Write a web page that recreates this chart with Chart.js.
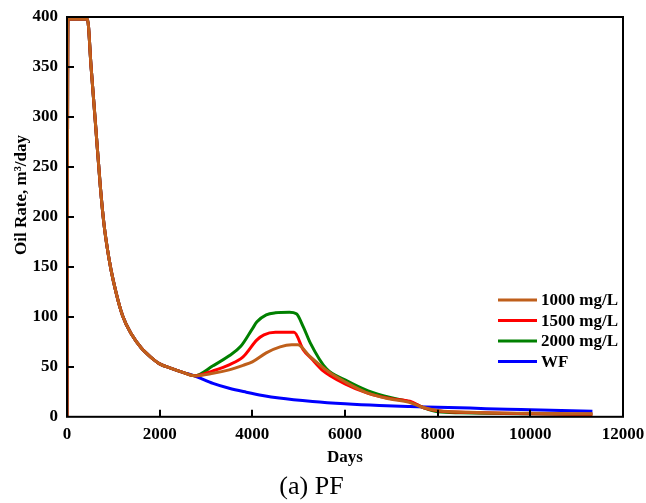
<!DOCTYPE html>
<html>
<head>
<meta charset="utf-8">
<script src="https://cdn.jsdelivr.net/npm/chart.js@4.4.1/dist/chart.umd.min.js"></script>
<style>
  html, body { margin: 0; padding: 0; background: #fff; }
  #wrap { width: 646px; height: 503px; }
</style>
</head>
<body>
<div id="wrap"><canvas id="chart" width="646" height="503"></canvas></div>
<script>
// primary depletion, shared by every case until injection starts (~2750 days)
const earlyDays = [0, 20, 440, 520, 620, 720, 800, 900, 1000, 1200, 1400, 1600, 1800, 2000, 2250, 2500, 2750];
const earlyRate = [0, 398, 398, 350, 290, 230, 192, 160, 136, 101, 82, 69, 60, 53, 48.5, 44.5, 41];

// after that each case goes its own way
const days1000 = [3150, 3500, 3800, 4000, 4300, 4600, 4850, 4980, 5230, 5660, 6020, 6450, 6950, 7385, 7673, 8030, 8680, 9000, 10000, 11340];
const rate1000 = [43.5, 47, 51.5, 55, 64, 70, 72, 72, 61, 44.5, 34.5, 24.5, 18, 14.5, 9.5, 6, 4.5, 4, 3.5, 3];

const days1500 = [3150, 3500, 3800, 4100, 4250, 4500, 4900, 5100, 5300, 5500, 6000, 6500, 7000, 7400, 7700, 8000, 9000, 10000, 11340];
const rate1500 = [46, 52, 60, 77, 82, 84.5, 84.5, 67, 57, 47, 33, 23.5, 18, 15.5, 9, 6, 4, 3, 2.5];

const days2000 = [3150, 3500, 3750, 4000, 4100, 4300, 4500, 4800, 4950, 5100, 5250, 5600, 6000, 6500, 7000, 7400, 7700, 8000, 8500, 9000, 10000, 11340];
const rate2000 = [51, 61, 70.5, 88, 95, 102, 104, 104.5, 103, 90, 74, 48, 37, 26, 19, 15, 9, 5, 4, 3.5, 3, 2.5];

const daysWF = [3150, 3500, 3870, 4220, 4580, 5300, 6000, 6740, 7400, 8000, 8700, 9500, 10000, 11340];
const rateWF = [33.4, 28.5, 24.6, 21.3, 18.7, 15.3, 13, 11.3, 10.3, 9.6, 8.7, 7.5, 7, 5.5];

const seriesLabels = ["1000 mg/L", "1500 mg/L", "2000 mg/L", "WF"];
const seriesColors = ["#BF5F1B", "#FF0000", "#008000", "#0000FF"];

const xTicks = [0, 2000, 4000, 6000, 8000, 10000, 12000];
const yTicks = [0, 50, 100, 150, 200, 250, 300, 350, 400];

const serif = "'Liberation Serif', 'Times New Roman', serif";

function points(days, rates) {
  const d = earlyDays.concat(days);
  const r = earlyRate.concat(rates);
  return d.map((x, i) => ({ x: x, y: r[i] }));
}

const allDays = [days1000, days1500, days2000, daysWF];
const allRates = [rate1000, rate1500, rate2000, rateWF];

const datasets = seriesLabels.map((label, i) => ({
  label: label,
  data: points(allDays[i], allRates[i]),
  borderColor: seriesColors[i],
  backgroundColor: seriesColors[i],
  borderWidth: 3,
  pointRadius: 0,
  cubicInterpolationMode: "monotone",
  fill: false,
}));

// frame, inward tick marks, y title and the legend box inside the plot
const framePlugin = {
  id: "frame",
  afterDraw(chart) {
    const ctx = chart.ctx;
    const area = chart.chartArea;
    const xs = chart.scales.x;
    const ys = chart.scales.y;
    ctx.save();
    ctx.strokeStyle = "#000";
    ctx.lineWidth = 2;
    ctx.strokeRect(area.left, area.top, area.right - area.left, area.bottom - area.top);

    ctx.beginPath();
    xTicks.slice(1, -1).forEach((v) => {
      const px = Math.round(xs.getPixelForValue(v));
      ctx.moveTo(px, area.bottom);
      ctx.lineTo(px, area.bottom - 7);
    });
    yTicks.slice(1, -1).forEach((v) => {
      const py = Math.round(ys.getPixelForValue(v));
      ctx.moveTo(area.left, py);
      ctx.lineTo(area.left + 7, py);
    });
    ctx.stroke();

    // y axis title, sits a little above the axis middle
    ctx.fillStyle = "#000";
    ctx.font = "bold 17px " + serif;
    ctx.textAlign = "center";
    ctx.textBaseline = "middle";
    ctx.translate(22, 195);
    ctx.rotate(-Math.PI / 2);
    ctx.fillText("Oil Rate, m\u00B3/day", 0, 0);
    ctx.setTransform(1, 0, 0, 1, 0, 0);

    // legend
    const lx = 498, ly = 300, rowH = 20.5;
    ctx.font = "bold 17px " + serif;
    ctx.textAlign = "left";
    chart.data.datasets.forEach((ds, i) => {
      const y = ly + i * rowH;
      ctx.strokeStyle = ds.borderColor;
      ctx.lineWidth = 3;
      ctx.beginPath();
      ctx.moveTo(lx, y);
      ctx.lineTo(lx + 39, y);
      ctx.stroke();
      ctx.fillStyle = "#000";
      ctx.fillText(ds.label, lx + 43, y + 1);
    });
    ctx.restore();
  },
};

new Chart(document.getElementById("chart"), {
  type: "line",
  data: { datasets: datasets },
  plugins: [framePlugin],
  options: {
    responsive: false,
    animation: false,
    layout: { padding: { left: 0, right: 23, top: 17, bottom: 0 } },
    plugins: {
      legend: { display: false },
      tooltip: { enabled: false },
      title: {
        display: true,
        position: "bottom",
        text: "(a) PF",
        color: "#000",
        font: { family: serif, size: 26, weight: "normal" },
        padding: { top: 0, bottom: 0 },
      },
    },
    scales: {
      x: {
        type: "linear",
        min: 0,
        max: 12000,
        afterBuildTicks: (axis) => { axis.ticks = xTicks.map((v) => ({ value: v })); },
        afterFit: (axis) => {
          axis.height = 55;
          axis.paddingLeft = 0;
          axis.paddingRight = 0;
        },
        grid: { display: false, drawTicks: false },
        border: { display: false },
        ticks: {
          color: "#000",
          padding: 8,
          maxRotation: 0,
          font: { family: serif, size: 17, weight: "bold" },
          callback: (v) => String(v),
        },
        title: {
          display: true,
          text: "Days",
          color: "#000",
          font: { family: serif, size: 17, weight: "bold" },
          padding: { top: 0, bottom: 4 },
        },
      },
      y: {
        min: 0,
        max: 400,
        afterBuildTicks: (axis) => { axis.ticks = yTicks.map((v) => ({ value: v })); },
        afterFit: (axis) => {
          axis.width = 67;
          axis.paddingTop = 0;
          axis.paddingBottom = 0;
        },
        grid: { display: false, drawTicks: false },
        border: { display: false },
        ticks: {
          color: "#000",
          padding: 9,
          font: { family: serif, size: 17, weight: "bold" },
          callback: (v) => String(v),
        },
      },
    },
  },
});
</script>
</body>
</html>
